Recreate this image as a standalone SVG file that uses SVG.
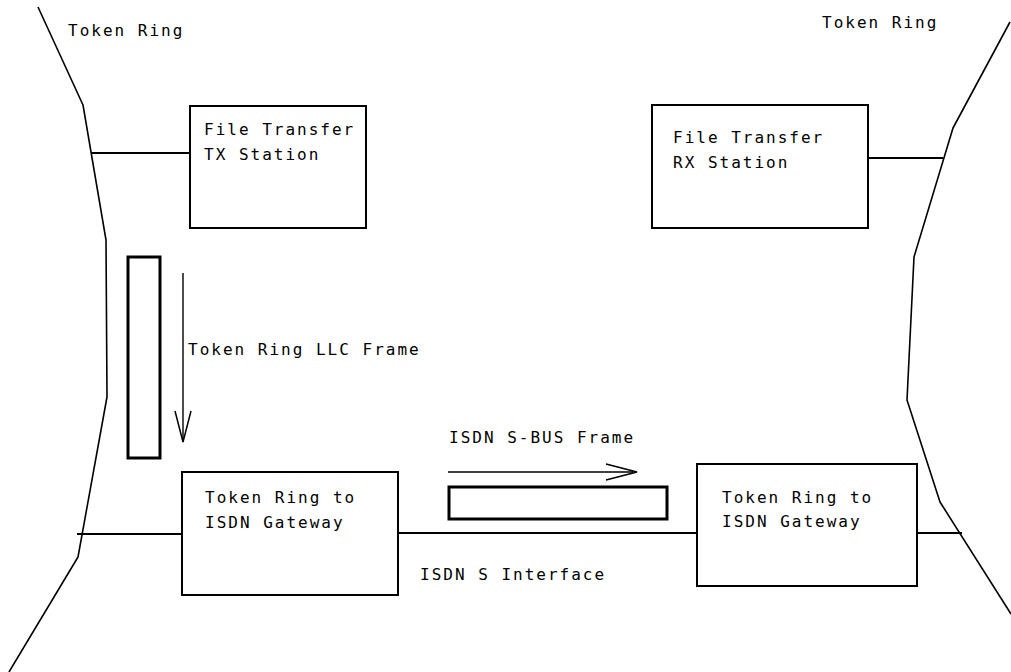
<svg xmlns="http://www.w3.org/2000/svg" width="1011" height="672" viewBox="0 0 1011 672">
  <defs>
    <style>
      .bg { fill: #ffffff; }
      .box { fill: none; stroke: #000; stroke-width: 2; }
      .frame { fill: none; stroke: #000; stroke-width: 3; }
      .ring { fill: none; stroke: #000; stroke-width: 1.6; stroke-linejoin: round; }
      .link { fill: none; stroke: #000; stroke-width: 1.8; }
      .flow { fill: none; stroke: #000; stroke-width: 1.4; }
      .label { font-family: "DejaVu Sans Mono", "Liberation Mono", monospace; font-size: 16px; letter-spacing: 2px; fill: #000; }
    </style>
    <!-- open V arrowhead used by both flow arrows -->
    <marker id="vee" markerUnits="userSpaceOnUse" viewBox="-34 -10 36 20" refX="0" refY="0" markerWidth="36" markerHeight="20" orient="auto">
      <path d="M-31,-8 L0,0 L-31,8" fill="none" stroke="#000" stroke-width="1.5"/>
    </marker>
  </defs>

  <rect class="bg" x="0" y="0" width="1011" height="672"/>

  <!-- token ring segments -->
  <g id="ring-left">
    <polyline class="ring" points="38,7 83,105 106,240 107,397 78,557 9,672"/>
    <text class="label" x="68" y="36">Token Ring</text>
  </g>
  <g id="ring-right">
    <polyline class="ring" points="1010,22 953,128 914,257 907,400 940,502 1011,614"/>
    <text class="label" x="822" y="28">Token Ring</text>
  </g>

  <!-- connectors -->
  <g id="connectors">
    <line class="link" x1="91" y1="153" x2="190" y2="153"/>
    <line class="link" x1="868" y1="158" x2="943" y2="158"/>
    <line class="link" x1="77" y1="534" x2="182" y2="534"/>
    <line class="link" x1="398" y1="533" x2="697" y2="533"/>
    <line class="link" x1="917" y1="533" x2="962" y2="533"/>
    <line class="flow" x1="183" y1="273" x2="183" y2="442" marker-end="url(#vee)"/>
    <line class="flow" x1="448" y1="472" x2="637" y2="472" marker-end="url(#vee)"/>
  </g>

  <g id="tx-station">
    <rect class="box" x="190" y="106" width="176" height="122"/>
    <text class="label" x="204" y="135">File Transfer</text>
    <text class="label" x="204" y="160">TX Station</text>
  </g>

  <g id="rx-station">
    <rect class="box" x="652" y="105" width="216" height="123"/>
    <text class="label" x="673" y="143">File Transfer</text>
    <text class="label" x="673" y="168">RX Station</text>
  </g>

  <g id="llc-frame">
    <rect class="frame" x="128" y="257" width="32" height="201"/>
    <text class="label" x="188" y="355">Token Ring LLC Frame</text>
  </g>

  <g id="sbus-frame">
    <rect class="frame" x="449" y="487" width="218" height="32"/>
    <text class="label" x="449" y="443">ISDN S-BUS Frame</text>
  </g>

  <g id="gateway-left">
    <rect class="box" x="182" y="472" width="216" height="123"/>
    <text class="label" x="205" y="503">Token Ring to</text>
    <text class="label" x="205" y="528">ISDN Gateway</text>
  </g>

  <g id="gateway-right">
    <rect class="box" x="697" y="464" width="220" height="122"/>
    <text class="label" x="722" y="503">Token Ring to</text>
    <text class="label" x="722" y="527">ISDN Gateway</text>
  </g>

  <g id="s-interface">
    <text class="label" x="420" y="580">ISDN S Interface</text>
  </g>
</svg>
